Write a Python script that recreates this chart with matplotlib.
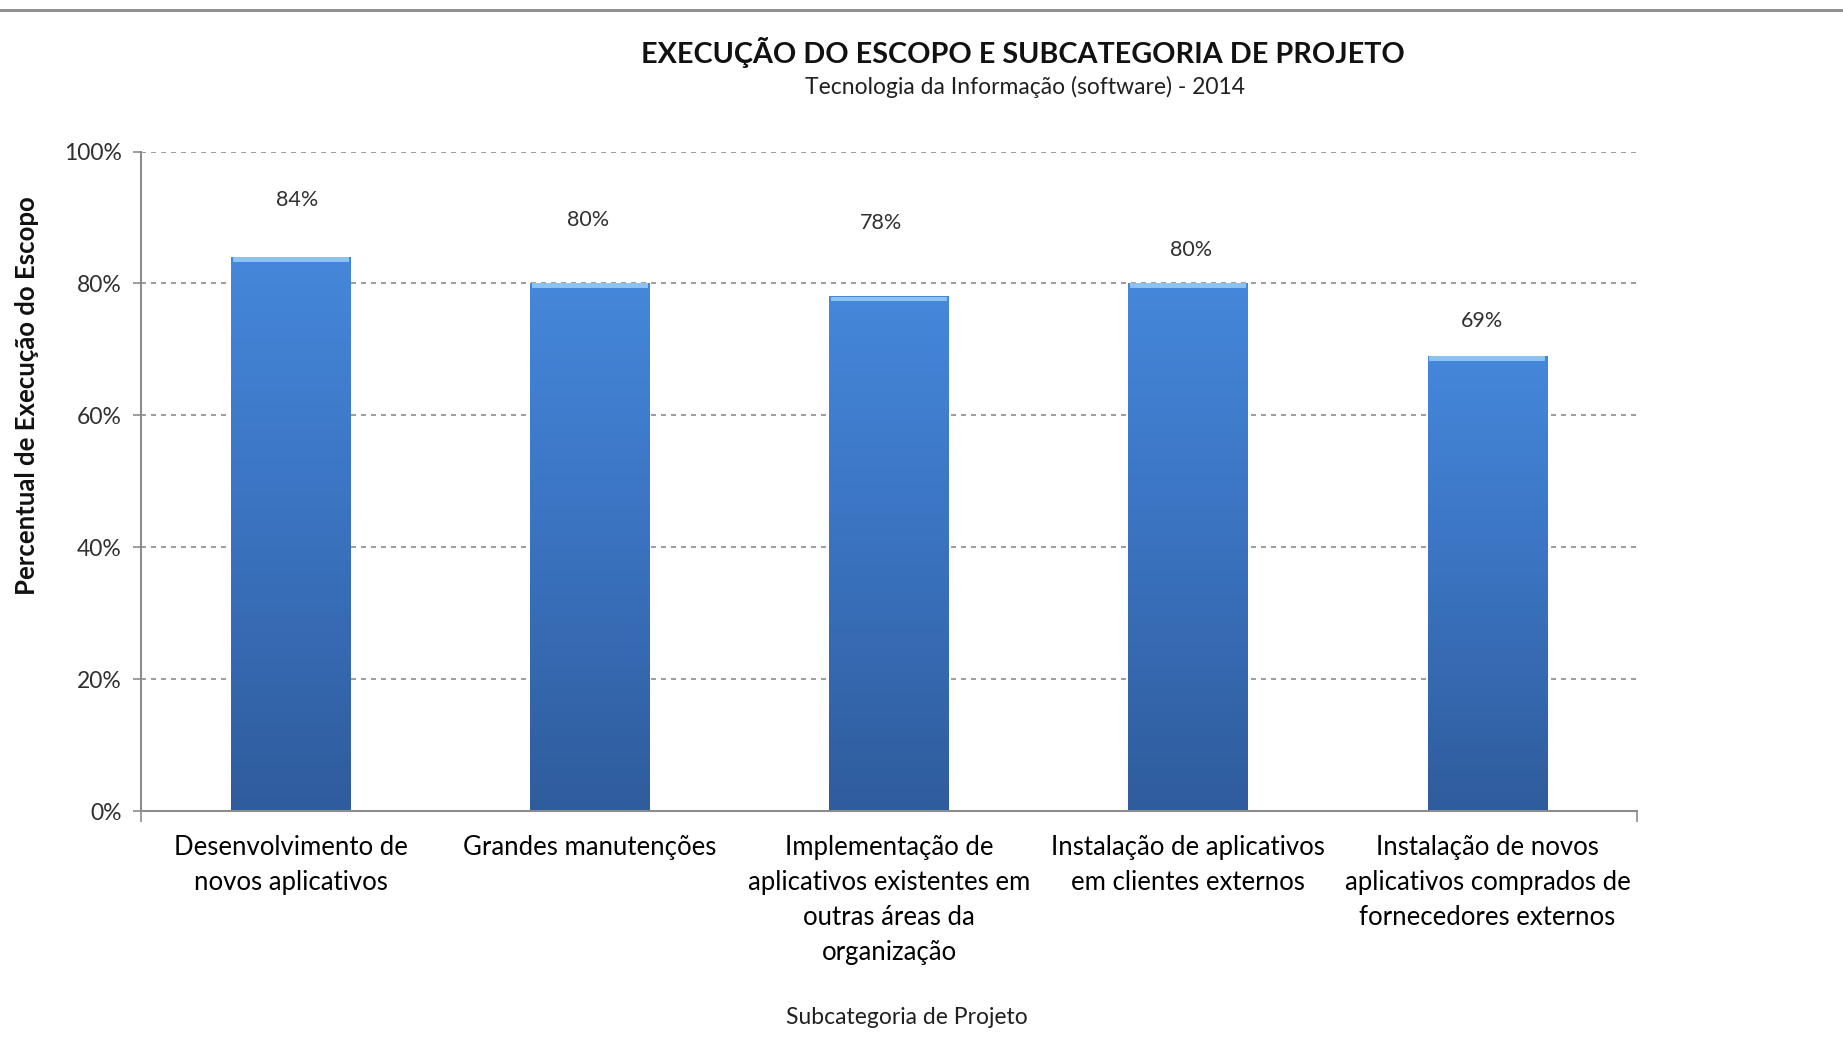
import numpy as np
import matplotlib.pyplot as plt
from matplotlib.colors import LinearSegmentedColormap

# --- dados ---
categorias = [
    "Desenvolvimento de\nnovos aplicativos",
    "Grandes manutenções",
    "Implementação de\naplicativos existentes em\noutras áreas da\norganização",
    "Instalação de aplicativos\nem clientes externos",
    "Instalação de novos\naplicativos comprados de\nfornecedores externos",
]
percentuais = [84, 80, 78, 80, 69]
rotulos = ["84%", "80%", "78%", "80%", "69%"]
yticks = [0, 20, 40, 60, 80, 100]

# deslocamento (pt) dos rótulos de valor em relação ao topo da barra
desloc_rotulos = [(5, 41), (-1, 46), (-6, 53), (2, 24), (-4, 25)]

titulo = "EXECUÇÃO DO ESCOPO E SUBCATEGORIA DE PROJETO"
subtitulo = "Tecnologia da Informação (software) - 2014"
ylabel = "Percentual de Execução do Escopo"
xlabel = "Subcategoria de Projeto"

plt.rcParams['font.family'] = ['Lato', 'DejaVu Sans']

W, H = 1843, 1051
fig = plt.figure(figsize=(W / 100, H / 100), dpi=100)
ax = fig.add_axes([141 / W, 1 - 811 / H, (1637 - 141) / W, (811 - 151.6) / H])

x = np.arange(len(categorias))
barras = ax.bar(x, percentuais, width=0.4, color='none', zorder=2)

# degradê vertical nas barras (claro em cima, escuro embaixo)
cmap = LinearSegmentedColormap.from_list('azul', ['#2f5c9c', '#3a72bf', '#4587da'])
grad = np.linspace(0, 1, 256).reshape(-1, 1)
for r in barras:
    x0, w, h = r.get_x(), r.get_width(), r.get_height()
    ax.imshow(grad, extent=[x0, x0 + w, 0, h], origin='lower', aspect='auto',
              cmap=cmap, interpolation='bicubic', zorder=2)
    # faixa clara no topo
    ax.bar(x0 + w / 2, 0.7, bottom=h - 0.7, width=w * 0.97, color='#8cc2f2', zorder=3)

for xi, v, txt, (dx, dy) in zip(x, percentuais, rotulos, desloc_rotulos):
    ax.annotate(txt, (xi, v), xytext=(dx, dy), textcoords='offset points',
                ha='center', va='center', fontsize=15.5, color='#303030')

ax.set_xlim(-0.5, len(categorias) - 0.5)
ax.set_ylim(0, 100)

# grade tracejada
ax.set_yticks(yticks, [f"{t}%" for t in yticks])
ax.grid(axis='y', color='#8c8c8c', linestyle=(0, (3, 3)), linewidth=1.2, zorder=0)
ax.set_axisbelow(True)

ax.set_xticks(x, categorias)
ax.set_xticks([-0.5, len(categorias) - 0.5], minor=True)
ax.tick_params(axis='x', which='major', length=0, pad=17, labelsize=18.5)
ax.tick_params(axis='x', which='minor', length=8, width=1.2, color='#8c8c8c', direction='out')
ax.tick_params(axis='y', length=6, width=1.2, color='#8c8c8c', labelsize=16.5,
               labelcolor='#303030', pad=8)
for lab in ax.get_xticklabels():
    lab.set_linespacing(1.5)

for s in ['top', 'right']:
    ax.spines[s].set_visible(False)
for s in ['left', 'bottom']:
    ax.spines[s].set_color('#8c8c8c')
    ax.spines[s].set_linewidth(1.5)

fig.text(1023 / W, 1 - 52 / H, titulo, ha='center', va='center',
         fontsize=20.7, fontweight='bold', color='#111111')
fig.text(1025 / W, 1 - 87 / H, subtitulo, ha='center', va='center',
         fontsize=16.5, color='#202020')
fig.text(27 / W, 1 - 396 / H, ylabel, ha='center', va='center', rotation=90,
         fontsize=18.5, fontweight='bold', color='#111111')
fig.text(907 / W, 1 - 1017 / H, xlabel, ha='center', va='center',
         fontsize=16.5, color='#202020')

# linha cinza no alto da figura
fig.add_artist(plt.Line2D([0, 1], [1 - 10 / H, 1 - 10 / H], transform=fig.transFigure,
                          color='#8a8a8a', linewidth=2))

fig.savefig('out.png', dpi=100, facecolor='white')
